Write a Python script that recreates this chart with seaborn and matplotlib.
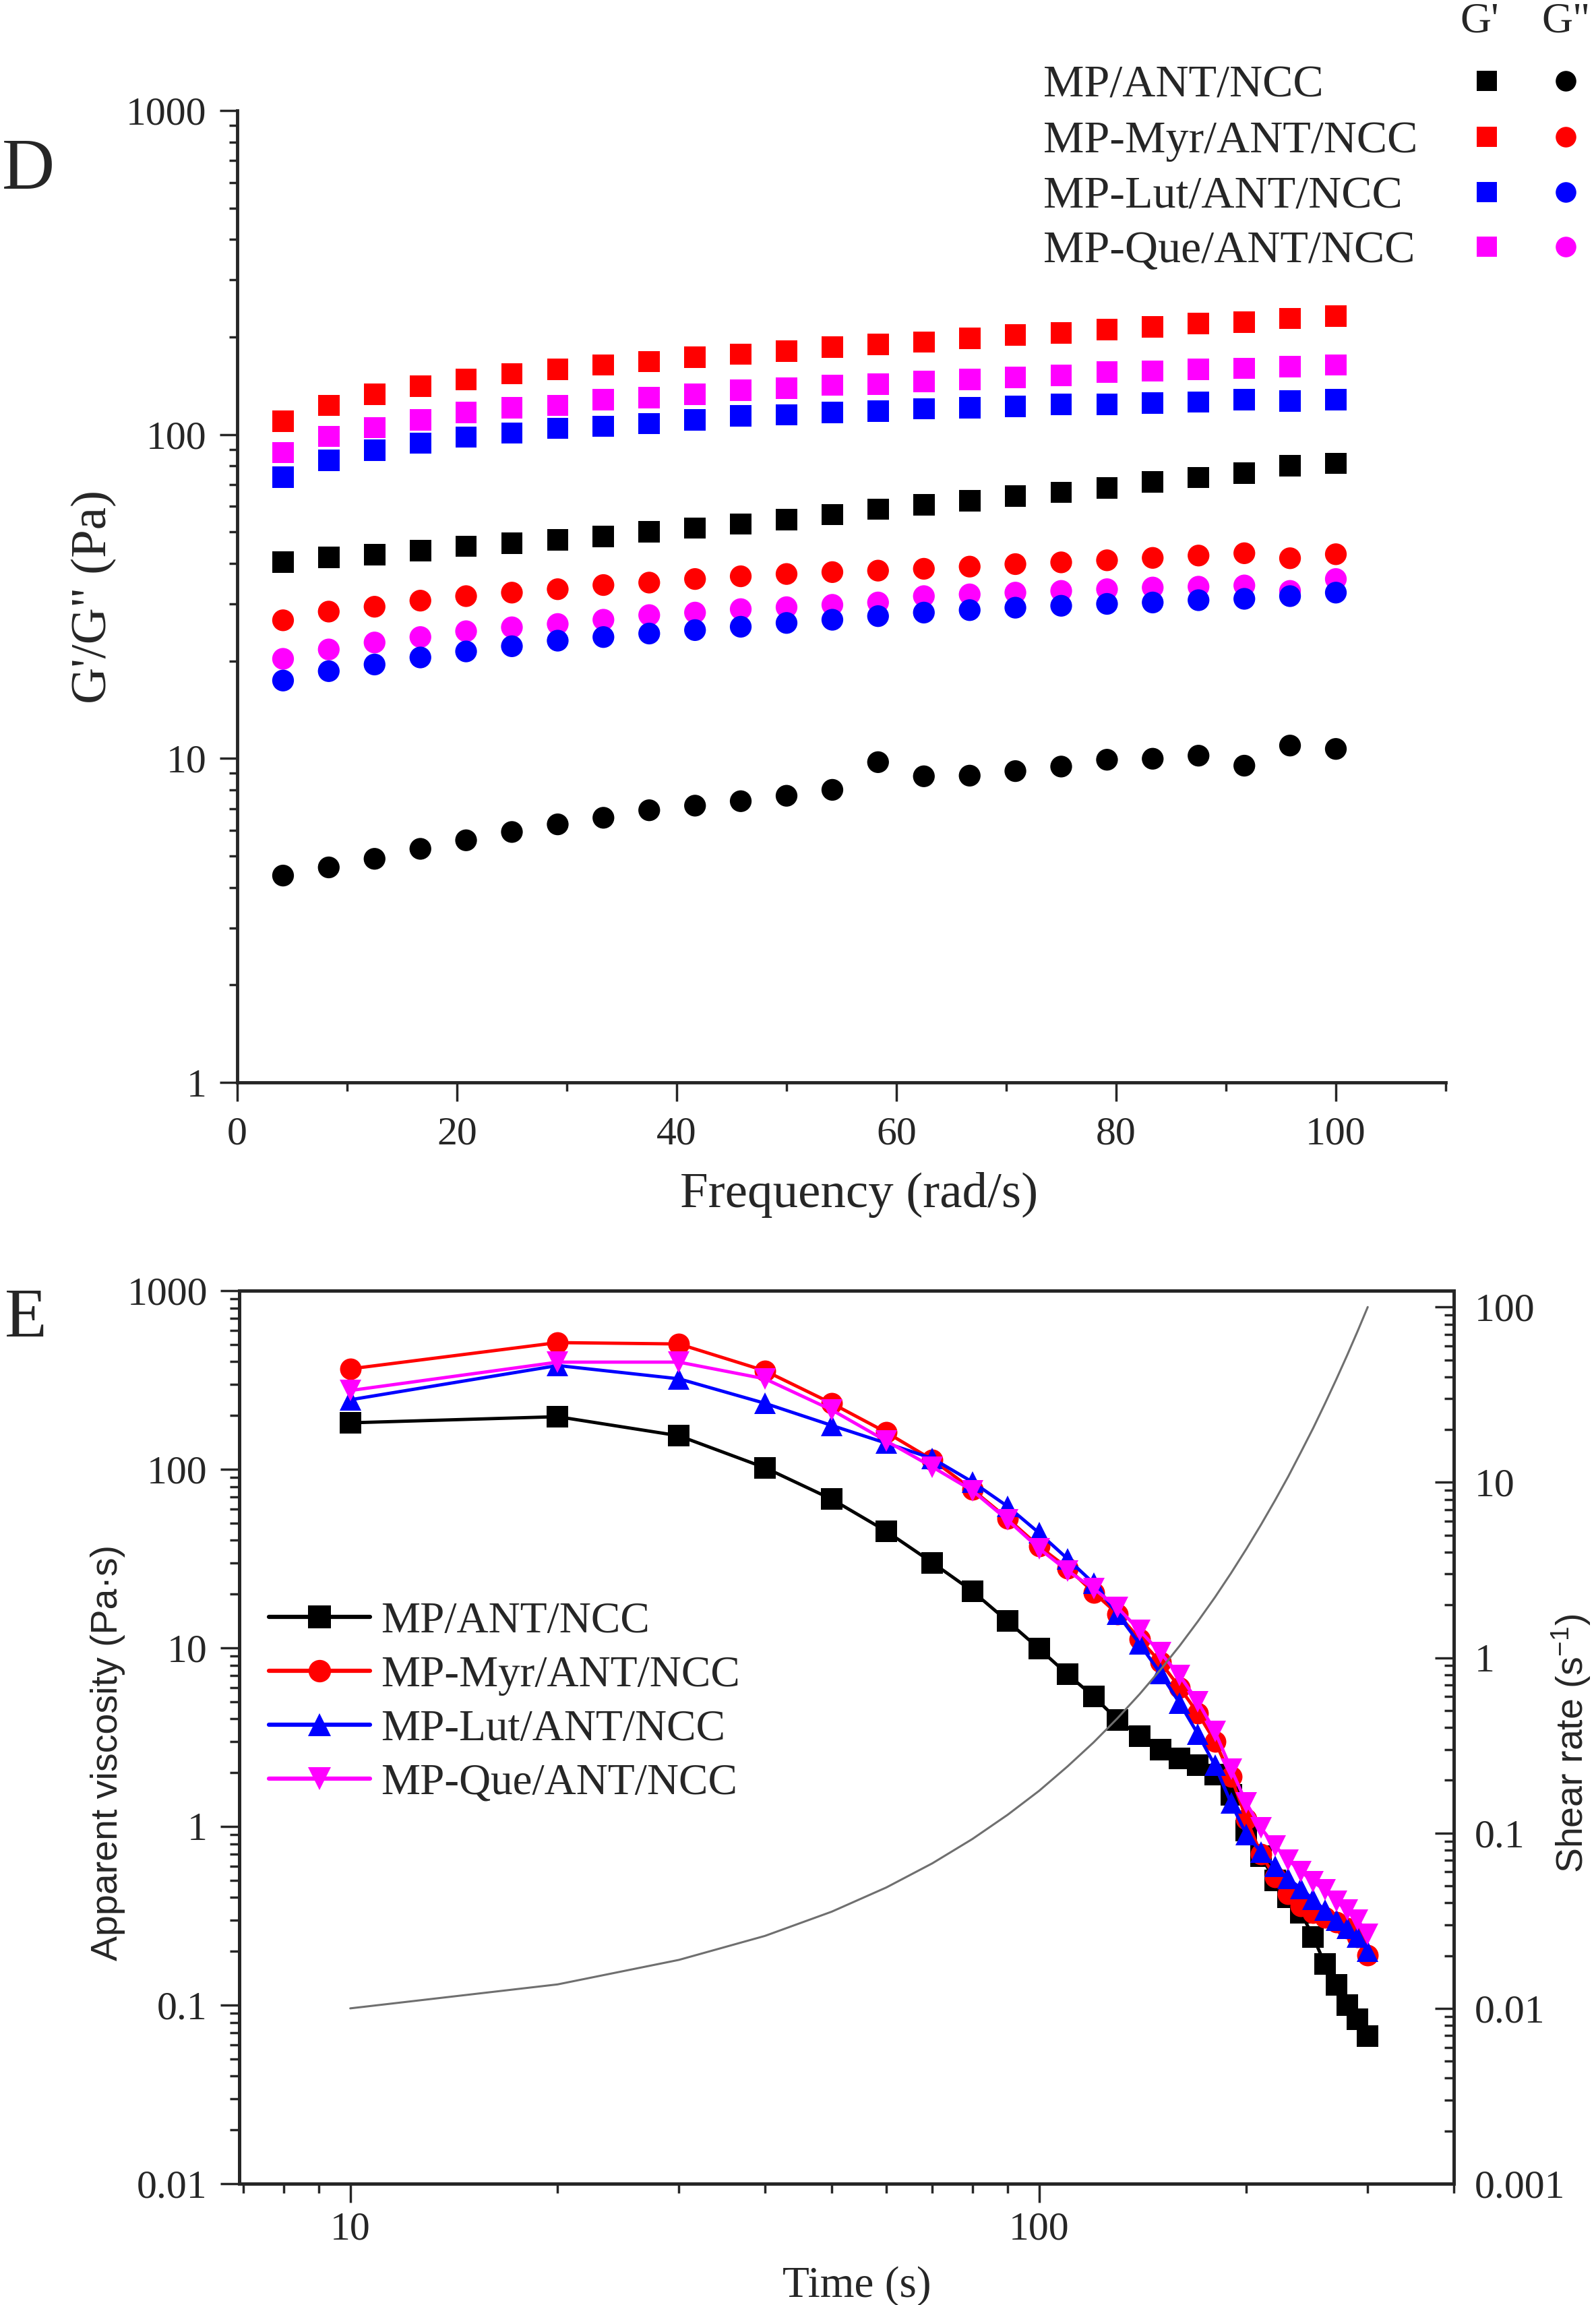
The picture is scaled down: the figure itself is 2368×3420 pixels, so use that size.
import numpy as np
import pandas as pd
import seaborn as sns
import matplotlib.pyplot as plt
from matplotlib.lines import Line2D
from matplotlib.ticker import MultipleLocator, LogLocator, FuncFormatter, NullFormatter

sns.set_style("ticks")
plt.rcParams['font.family'] = ['Liberation Serif', 'DejaVu Serif']
plt.rcParams['mathtext.default'] = 'regular'

samples = ["MP/ANT/NCC", "MP-Myr/ANT/NCC", "MP-Lut/ANT/NCC", "MP-Que/ANT/NCC"]
colors = {"MP/ANT/NCC": "#000000", "MP-Myr/ANT/NCC": "#ff0000",
          "MP-Lut/ANT/NCC": "#0000ff", "MP-Que/ANT/NCC": "#ff00ff"}

# ---- panel D: frequency sweep (rad/s) ----
freq = [4.17, 8.33, 12.5, 16.67, 20.83, 25.0, 29.17, 33.33, 37.5, 41.67, 45.83, 50.0,
        54.17, 58.33, 62.5, 66.67, 70.83, 75.0, 79.17, 83.33, 87.5, 91.67, 95.83, 100.0]
gp_mp = [40.4, 41.7, 42.5, 43.8, 45.2, 46.1, 47.3, 48.5, 50.1, 51.4, 52.9, 54.6,
         56.6, 58.8, 60.7, 62.5, 64.5, 66.3, 68.4, 71.5, 73.6, 76.0, 80.2, 81.5]
gp_myr = [110, 123, 133, 141, 148, 154, 159, 164, 168, 173, 177, 181,
          186, 190, 193, 198, 203, 206, 211, 215, 220, 222, 228, 232]
gp_lut = [73.9, 83.2, 89.5, 94.0, 98.2, 101, 104.5, 106, 108, 111, 114, 115,
          117, 118, 120, 121, 122, 124, 124, 125, 126, 128, 127, 128]
gp_que = [87.9, 98.6, 105, 111, 117, 121, 123, 128, 130, 133, 137, 139,
          142, 143, 146, 148, 150, 152, 156, 157, 159, 160, 162, 164]
gpp_mp = [4.35, 4.61, 4.90, 5.26, 5.59, 5.93, 6.26, 6.56, 6.92, 7.15, 7.38, 7.67,
          8.00, 9.74, 8.81, 8.85, 9.14, 9.44, 9.91, 9.98, 10.2, 9.50, 10.96, 10.7]
gpp_myr = [26.7, 28.4, 29.4, 30.7, 31.7, 32.5, 33.3, 34.3, 34.9, 35.8, 36.5, 37.1,
           37.6, 38.0, 38.5, 39.1, 39.8, 40.3, 40.9, 41.6, 42.3, 43.0, 41.5, 42.7]
gpp_lut = [17.4, 18.6, 19.5, 20.5, 21.4, 22.2, 23.1, 23.7, 24.3, 24.9, 25.5, 26.2,
           26.8, 27.5, 28.2, 28.7, 29.2, 29.6, 30.0, 30.3, 30.8, 31.1, 31.7, 32.5]
gpp_que = [20.3, 21.7, 22.8, 23.7, 24.7, 25.4, 26.0, 26.8, 27.7, 28.2, 28.9, 29.3,
           29.8, 30.3, 31.7, 32.1, 32.5, 32.9, 33.3, 33.7, 33.9, 34.2, 32.9, 35.8]

# ---- panel E: viscosity vs time ----
time = [10, 20, 30, 40, 50, 60, 70, 80, 90, 100, 110, 120, 130, 140, 150,
        160, 170, 180, 190, 200, 210, 220, 230, 240, 250, 260, 270, 280, 290, 300]
visc_mp = [182, 197, 154, 102, 68, 45, 30, 20.8, 14.1, 9.9, 7.1, 5.35, 3.95, 3.2, 2.7,
           2.4, 2.2, 1.95, 1.5, 0.95, 0.68, 0.5, 0.4, 0.33, 0.24, 0.17, 0.13, 0.1, 0.083, 0.067]
visc_myr = [365, 512, 503, 356, 234, 161, 113, 77, 53, 37, 28, 20.4, 15.5, 11.2, 8.3,
            6.0, 4.3, 3.0, 1.9, 1.1, 0.7, 0.52, 0.42, 0.36, 0.33, 0.31, 0.29, 0.27, 0.24, 0.19]
visc_lut = [245, 381, 321, 234, 176, 140, 115, 85, 62, 44, 31.5, 23, 15.5, 10.5, 7.2,
            4.9, 3.3, 2.2, 1.35, 0.9, 0.72, 0.6, 0.51, 0.45, 0.39, 0.34, 0.3, 0.27, 0.24, 0.2]
visc_que = [276, 398, 398, 321, 215, 144, 103, 76, 52, 36, 27, 21.5, 16.8, 12.5, 9.4,
            7.0, 5.0, 3.4, 2.1, 1.35, 0.98, 0.78, 0.65, 0.56, 0.49, 0.44, 0.38, 0.34, 0.3, 0.25]
shear = [0.0100, 0.0137, 0.0189, 0.0259, 0.0356, 0.0489, 0.0672, 0.0924, 0.127, 0.174,
         0.240, 0.329, 0.452, 0.621, 0.853, 1.17, 1.61, 2.21, 3.04, 4.18,
         5.74, 7.88, 10.8, 14.9, 20.4, 28.1, 38.6, 53.0, 72.8, 100]

# long tables for seaborn
d_order = ["MP/ANT/NCC", "MP-Myr/ANT/NCC", "MP-Que/ANT/NCC", "MP-Lut/ANT/NCC"]
gp = {"MP/ANT/NCC": gp_mp, "MP-Myr/ANT/NCC": gp_myr, "MP-Lut/ANT/NCC": gp_lut, "MP-Que/ANT/NCC": gp_que}
gpp = {"MP/ANT/NCC": gpp_mp, "MP-Myr/ANT/NCC": gpp_myr, "MP-Lut/ANT/NCC": gpp_lut, "MP-Que/ANT/NCC": gpp_que}
df_gp = pd.concat([pd.DataFrame({"freq": freq, "mod": gp[s], "sample": s}) for s in d_order])
df_gpp = pd.concat([pd.DataFrame({"freq": freq, "mod": gpp[s], "sample": s}) for s in d_order])

visc = {"MP/ANT/NCC": visc_mp, "MP-Myr/ANT/NCC": visc_myr, "MP-Lut/ANT/NCC": visc_lut, "MP-Que/ANT/NCC": visc_que}
df_e = pd.concat([pd.DataFrame({"time": time, "visc": visc[s], "sample": s}) for s in samples])
e_markers = {"MP/ANT/NCC": "s", "MP-Myr/ANT/NCC": "o", "MP-Lut/ANT/NCC": "^", "MP-Que/ANT/NCC": "v"}

W, H = 2368, 3420
fig = plt.figure(figsize=(W / 100, H / 100), dpi=100)

tick_fs = 43
fmt = FuncFormatter(lambda v, p: f"{v:g}")

# ================= panel D =================
axd = fig.add_axes([352 / W, 1 - 1606 / H, (2145 - 352) / W, (1606 - 164) / H])
axd.set_yscale("log")
sns.scatterplot(data=df_gp, x="freq", y="mod", hue="sample", palette=colors, marker="s",
                s=520, linewidth=0, legend=False, ax=axd, clip_on=False)
sns.scatterplot(data=df_gpp, x="freq", y="mod", hue="sample", palette=colors, marker="o",
                s=540, linewidth=0, legend=False, ax=axd, clip_on=False)
axd.set_xlim(0, 110)
axd.set_ylim(1, 1000)
sns.despine(ax=axd)
for sp in ["left", "bottom"]:
    axd.spines[sp].set_linewidth(3.5)
axd.xaxis.set_major_locator(MultipleLocator(20))
axd.xaxis.set_minor_locator(MultipleLocator(10))
axd.yaxis.set_major_formatter(fmt)
axd.yaxis.set_minor_formatter(NullFormatter())
axd.tick_params(axis="both", which="major", direction="out", length=19, width=2.5, labelsize=tick_fs)
axd.tick_params(axis="both", which="minor", direction="out", length=9, width=2.5)
axd.tick_params(axis="x", which="major", length=20, pad=16)
axd.tick_params(axis="y", which="major", pad=14)
axd.set_xlabel("Frequency (rad/s)", fontsize=54)
axd.set_ylabel("G'/G\" (Pa)", fontsize=54)
axd.xaxis.set_label_coords((1275 - 352) / 1793, -0.092)
axd.yaxis.set_label_coords(-0.10, 0.5)

# legend of panel D (text column plus G'/G" marker columns)
row_y = [127, 210, 292, 373]
fig.text(2195 / W, 1 - 33 / H, "G'", fontsize=46, ha="center", va="center")
fig.text(2323 / W, 1 - 33 / H, 'G"', fontsize=46, ha="center", va="center")
for s, ry in zip(samples, row_y):
    fig.text(1548 / W, 1 - ry / H, s, fontsize=49, ha="left", va="center")
    fig.add_artist(Line2D([2206 / W], [1 - (ry - 7) / H], marker="s", ms=21, ls="",
                          color=colors[s], mew=0, transform=fig.transFigure))
    fig.add_artist(Line2D([2323 / W], [1 - (ry - 7) / H], marker="o", ms=22, ls="",
                          color=colors[s], mew=0, transform=fig.transFigure))

fig.text(3 / W, 1 - 280 / H, "D", fontsize=78, ha="left", va="baseline")

# ================= panel E =================
axe = fig.add_axes([355 / W, 1 - 3240 / H, (2157 - 355) / W, (3240 - 1915) / H])
axe.set_xscale("log")
axe.set_yscale("log")
sns.lineplot(data=df_e, x="time", y="visc", hue="sample", style="sample", hue_order=samples,
             style_order=samples, palette=colors, markers=e_markers, dashes=False,
             markersize=23, markeredgewidth=0, linewidth=3.5, legend=False, ax=axe)
axe.set_xlim(6.9, 400)
axe.set_ylim(0.01, 1000)

axr = axe.twinx()
axr.set_yscale("log")
sns.lineplot(x=time, y=shear, color="#6f6f6f", linewidth=2.2, ax=axr)
axr.set_ylim(0.001, 124)

for a in (axe, axr):
    for sp in a.spines.values():
        sp.set_linewidth(3.5)

axe.xaxis.set_major_locator(LogLocator(base=10))
axe.xaxis.set_minor_locator(LogLocator(base=10, subs=np.arange(2, 10)))
axe.xaxis.set_major_formatter(fmt)
axe.xaxis.set_minor_formatter(NullFormatter())
axe.yaxis.set_major_locator(LogLocator(base=10))
axe.yaxis.set_minor_locator(LogLocator(base=10, subs=np.arange(2, 10)))
axe.yaxis.set_major_formatter(fmt)
axe.yaxis.set_minor_formatter(NullFormatter())
axr.yaxis.set_major_locator(LogLocator(base=10))
axr.yaxis.set_minor_locator(LogLocator(base=10, subs=np.arange(2, 10)))
axr.yaxis.set_major_formatter(fmt)
axr.yaxis.set_minor_formatter(NullFormatter())

axe.tick_params(axis="both", which="major", direction="out", length=20, width=2.5, labelsize=tick_fs)
axe.tick_params(axis="both", which="minor", direction="out", length=10, width=2.5)
axe.tick_params(axis="x", which="major", pad=10)
axe.tick_params(axis="y", which="major", pad=14)
axr.tick_params(axis="y", which="major", direction="in", length=20, width=2.5, labelsize=tick_fs, pad=22)
axr.tick_params(axis="y", which="minor", direction="in", length=10, width=2.5)

axe.set_xlabel("Time (s)", fontsize=47)
axe.xaxis.set_label_coords((1271 - 355) / 1802, -0.092)
axe.set_ylabel("Apparent viscosity (Pa·s)", fontsize=40, family=["Liberation Sans", "DejaVu Sans"])
axe.yaxis.set_label_coords(-0.094, 0.483)
axr.set_ylabel("Shear rate (s$^{-1}$)", fontsize=40, family=["Liberation Sans", "DejaVu Sans"])
axr.yaxis.set_label_coords(1.079, 0.493)

handles = [Line2D([], [], color=colors[s], marker=e_markers[s], ms=24, mew=0, lw=4.5)
           for s in samples]
axe.legend(handles, samples, loc="upper left", bbox_to_anchor=(0.0244, 0.652), frameon=False,
           fontsize=47, handlelength=2.3, handletextpad=0.25, labelspacing=0.31,
           borderpad=0, borderaxespad=0)

fig.text(7 / W, 1 - 1983 / H, "E", fontsize=74, ha="left", va="baseline")

fig.savefig("out.png", dpi=100)
